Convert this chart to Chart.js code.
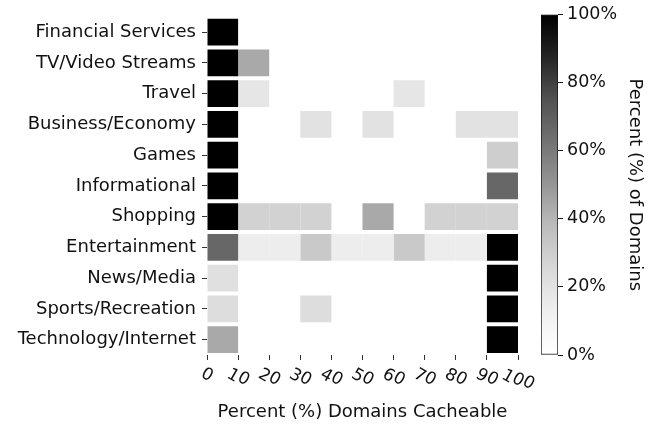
<!DOCTYPE html>
<html>
<head>
<meta charset="utf-8">
<script src="https://cdn.jsdelivr.net/npm/chart.js@4"></script>
<style>
  body { margin: 0; background: #fff; }
  #wrap { position: relative; width: 654px; height: 425px; }
  #heat { position: absolute; left: 0; top: 0; }
  #bar { position: absolute; left: 518px; top: 0; }
</style>
</head>
<body>
<div id="wrap">
  <canvas id="heat" width="654" height="425"></canvas>
  <canvas id="bar" width="136" height="425"></canvas>
</div>
<script>
const categories = ['Financial Services', 'TV/Video Streams', 'Travel', 'Business/Economy', 'Games',
  'Informational', 'Shopping', 'Entertainment', 'News/Media', 'Sports/Recreation', 'Technology/Internet'];
const binEdges = [0, 10, 20, 30, 40, 50, 60, 70, 80, 90, 100];
const xTickLabels = ['0', '10', '20', '30', '40', '50', '60', '70', '80', '90', '100'];
const colorbarTicks = [0, 20, 40, 60, 80, 100];

// percent of domains per cacheable bin (0-10, 10-20, ... 90-100)
const financialServices = [100, 0, 0, 0, 0, 0, 0, 0, 0, 0];
const tvVideoStreams    = [100, 44, 0, 0, 0, 0, 0, 0, 0, 0];
const travel            = [100, 18, 0, 0, 0, 0, 18, 0, 0, 0];
const businessEconomy   = [100, 0, 0, 20, 0, 20, 0, 0, 20, 20];
const games             = [100, 0, 0, 0, 0, 0, 0, 0, 0, 30];
const informational     = [100, 0, 0, 0, 0, 0, 0, 0, 0, 67];
const shopping          = [100, 28, 28, 28, 0, 44, 0, 28, 28, 28];
const entertainment     = [67, 14, 14, 32, 14, 14, 32, 14, 14, 100];
const newsMedia         = [21, 0, 0, 0, 0, 0, 0, 0, 0, 100];
const sportsRecreation  = [23, 0, 0, 23, 0, 0, 0, 0, 0, 100];
const technologyInternet = [44, 0, 0, 0, 0, 0, 0, 0, 0, 100];

const rows = [financialServices, tvVideoStreams, travel, businessEconomy, games, informational,
  shopping, entertainment, newsMedia, sportsRecreation, technologyInternet];

const greysStops = ['#ffffff', '#f0f0f0', '#d9d9d9', '#bdbdbd', '#969696', '#737373', '#525252', '#252525', '#000000'];

function greys(v) {
  const t = Math.max(0, Math.min(1, v / 100)) * (greysStops.length - 1);
  const i = Math.min(Math.floor(t), greysStops.length - 2);
  const f = t - i;
  const a = parseInt(greysStops[i].slice(1, 3), 16);
  const b = parseInt(greysStops[i + 1].slice(1, 3), 16);
  const g = Math.round(a + (b - a) * f);
  return `rgb(${g},${g},${g})`;
}

const font = 'DejaVu Sans';

const datasets = binEdges.slice(0, -1).map((lo, i) => ({
  data: rows.map(r => r[i] > 0 ? [lo, binEdges[i + 1]] : null),
  backgroundColor: rows.map(r => greys(r[i])),
  borderWidth: 0,
  grouped: false,
  barPercentage: 0.87,
  categoryPercentage: 1
}));

const tiltedTicks = {
  id: 'tiltedTicks',
  afterDraw(chart) {
    const ctx = chart.ctx;
    const sx = chart.scales.x;
    const base = 17 * Math.PI / 180;
    const tilt = 30 * Math.PI / 180;
    ctx.save();
    ctx.font = `17px "${font}"`;
    ctx.fillStyle = '#111';
    ctx.textAlign = 'center';
    ctx.textBaseline = 'middle';
    binEdges.forEach((v, i) => {
      const label = xTickLabels[i];
      const x = sx.getPixelForValue(v);
      const y = sx.top + 20 + (label.length - 1) * 2.5;
      let run = -ctx.measureText(label).width / 2;
      for (const ch of label) {
        const w = ctx.measureText(ch).width;
        const d = run + w / 2;
        ctx.save();
        ctx.translate(x + d * Math.cos(base), y + d * Math.sin(base));
        ctx.rotate(tilt);
        ctx.fillText(ch, 0, 0);
        ctx.restore();
        run += w;
      }
    });
    ctx.restore();
  }
};

new Chart(document.getElementById('heat'), {
  type: 'bar',
  data: { labels: categories, datasets: datasets },
  options: {
    indexAxis: 'y',
    responsive: false,
    animation: false,
    events: [],
    layout: { padding: { top: 13, right: 136, left: 0, bottom: 0 } },
    plugins: { legend: { display: false }, tooltip: { enabled: false } },
    scales: {
      x: {
        type: 'linear',
        min: 0,
        max: 100,
        afterBuildTicks: s => { s.ticks = binEdges.map(v => ({ value: v })); },
        afterFit: s => { s.height = 70; },
        ticks: { display: false },
        grid: { drawOnChartArea: false, drawTicks: true, tickLength: 5, color: '#333' },
        border: { display: false },
        title: {
          display: true,
          text: 'Percent (%) Domains Cacheable',
          color: '#111',
          font: { family: font, size: 18 },
          padding: { top: 0, bottom: 2 }
        }
      },
      y: {
        type: 'category',
        afterFit: s => { s.width = 207; },
        ticks: { autoSkip: false, color: '#111', padding: 6, font: { family: font, size: 18 } },
        grid: { offset: false, drawOnChartArea: false, drawTicks: true, tickLength: 5, color: '#333' },
        border: { display: false }
      }
    }
  },
  plugins: [tiltedTicks]
});

new Chart(document.getElementById('bar'), {
  type: 'bar',
  data: {
    labels: ['scale'],
    datasets: [{
      data: [[0, 100]],
      backgroundColor: c => {
        const a = c.chart.chartArea;
        if (!a) return '#888';
        const g = c.chart.ctx.createLinearGradient(0, a.bottom, 0, a.top);
        greysStops.forEach((col, i) => g.addColorStop(i / (greysStops.length - 1), col));
        return g;
      },
      borderColor: '#111',
      borderWidth: 1,
      borderSkipped: false,
      barPercentage: 1,
      categoryPercentage: 1
    }]
  },
  options: {
    responsive: false,
    animation: false,
    events: [],
    layout: { padding: { top: 13, left: 23, bottom: 70, right: 0 } },
    plugins: { legend: { display: false }, tooltip: { enabled: false } },
    scales: {
      x: { display: false },
      y: {
        position: 'right',
        min: 0,
        max: 100,
        afterBuildTicks: s => { s.ticks = colorbarTicks.map(v => ({ value: v })); },
        afterFit: s => { s.width = 96; },
        ticks: { color: '#111', padding: 4, font: { family: font, size: 17.5 }, callback: v => v + '%' },
        grid: { drawOnChartArea: false, drawTicks: true, tickLength: 5, color: '#111' },
        border: { display: false },
        title: {
          display: true,
          text: 'Percent (%) of Domains',
          color: '#111',
          font: { family: font, size: 18 },
          padding: { top: 9 }
        }
      }
    }
  }
});
</script>
</body>
</html>
